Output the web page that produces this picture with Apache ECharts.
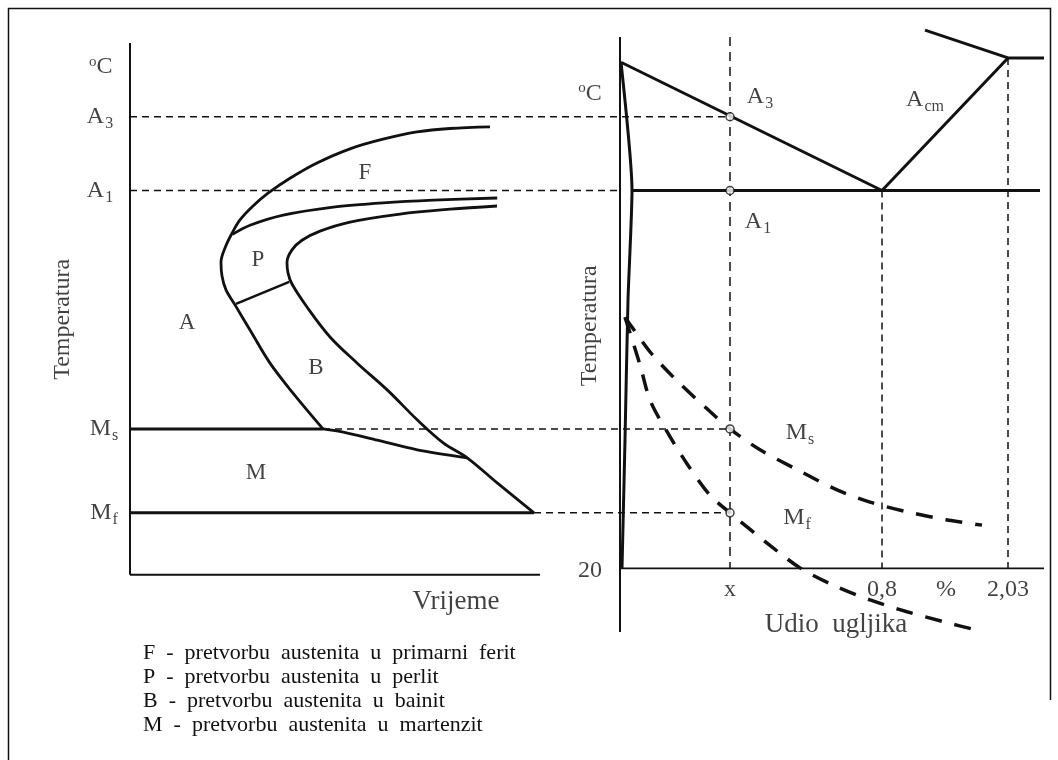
<!DOCTYPE html>
<html><head><meta charset="utf-8">
<script src="https://cdn.jsdelivr.net/npm/echarts@6/dist/echarts.min.js"></script>
<style>html,body{margin:0;padding:0;background:#fff}#c{width:1058px;height:760px}</style>
</head><body><div id="c"></div><script>
// ---------- DATA (schematic units: temperature in °C-like units, time / carbon in schematic units) ----------
const A3 = 865, A1 = 727, MS = 281, MF = 124, T20 = 20;
// left TTT diagram (time, temperature)
const leftAxisV = [[0, 1003], [0, 8]];
const leftAxisH = [[0, 8], [102.5, 8]];
const ferriteStart = [[90,846],[80,843],[71.75,836.5],[63.25,823],[55,805],[46.75,778.5],[40,750],[34.5,722],[30.75,698],[27.5,672],[25.5,647],[23.75,619.5],[22.75,593],[23,567],[24,541],[26.25,513],[30,466],[35,404],[40.75,348],[48.25,281]];
const pearliteStart = [[25.6,645],[30,662],[38.3,681],[50.8,696],[63.3,704],[75.8,709],[91.8,713]];
const transformEnd = [[91.75,698],[80,692],[67.5,683],[55,668],[47.5,651],[43,634],[40.5,616],[39.25,593],[39.5,573],[40.5,552],[44.25,509],[50,453],[56.8,404],[64.3,354],[71.8,298],[78.3,255],[84.3,227],[91.8,180],[101,124]];
const pbDivider = [[26.5,515],[39.8,556]];
const bainiteMs = [[48.25,281],[53.3,275],[61.8,260],[71.8,242],[84.3,227]];
const msSolid = [[0, MS], [48.25, MS]];
const mfSolid = [[0, MF], [101, MF]];
// right Fe-C diagram (carbon, schematic units; temperature)
const compX = 27.5, eutectoidX = 65.5, maxSolX = 97;
const rightAxisV = [[0, 1014], [0, -99]];
const rightAxisH = [[0, T20], [106, T20]];
const alphaLine = [[0.25,967],[3,727],[2,522],[1.25,260],[0.5,20]];
const a3Line = [[0.25,967],[eutectoidX,727]];
const acmLine = [[eutectoidX,727],[maxSolX,975]];
const topLine = [[76.25,1027],[maxSolX,975],[106,975]];
const a1Line = [[3,727],[105,727]];
const vCompX = [[compX,1014],[compX,T20]];
const vEutect = [[eutectoidX,727],[eutectoidX,T20]];
const vMaxSol = [[maxSolX,975],[maxSolX,T20]];
const msCurve = [[1.25,490],[7.75,423],[14.25,371],[21.25,322],[27.5,281],[35,242],[45,202],[54.25,167],[62.5,144],[71.75,126],[81.5,111],[90.5,101]];
const mfCurve = [[1.25,490],[5,401],[7.5,335],[11.5,279],[17,213],[22.5,157],[27.5,124],[37,66],[45,21],[53.75,-13],[62.5,-39],[71.75,-61],[81,-80],[90,-97]];
const circles = [[compX, A3], [compX, A1], [compX, MS], [compX, MF]];
// texts
const leftTempLabels = [[-7.3, 958, '{o|o}{b|C}'], [-7.5, A3, '{b|A}{s|3}'], [-7.5, A1, '{b|A}{s|1}'], [-6.5, MS, '{b|M}{s|s}'], [-6.5, MF, '{b|M}{s|f}']];
const leftRegionLabels = [[58.75, 760, 'F'], [32, 597, 'P'], [14.25, 479, 'A'], [46.5, 395, 'B'], [31.5, 198, 'M']];
const rightLabels = [[-7.5, 909, '{o|o}{b|C}'], [35, 902, '{b|A}{s|3}'], [34.5, 668, '{b|A}{s|1}'], [76.25, 896, '{b|A}{s|cm}'], [45, 273, '{b|M}{s|s}'], [44.25, 114, '{b|M}{s|f}'], [-7.5, 15, '{b|20}']];
const xTickPos = [compX, eutectoidX, 81.5, maxSolX];
const xTickLabels = ['x', '0,8', '%', '2,03'];
const legendLines = ['F  -  pretvorbu  austenita  u  primarni  ferit', 'P  -  pretvorbu  austenita  u  perlit', 'B  -  pretvorbu  austenita  u  bainit', 'M  -  pretvorbu  austenita  u  martenzit'];

// ---------- RENDER ----------
const FONT = 'Liberation Serif';
const INK = '#111';
const rich = {
  b: {fontSize: 24, fontFamily: FONT, color: INK},
  s: {fontSize: 16, fontFamily: FONT, color: INK, padding: [14, 0, 0, 1]},
  o: {fontSize: 15, fontFamily: FONT, color: INK, padding: [0, 0, 10, 0]}
};
const chart = echarts.init(document.getElementById('c'), null, {renderer: 'canvas'});

function line(g, data, w, type, smooth) {
  return {type: 'line', xAxisIndex: g, yAxisIndex: g, data: data, symbol: 'none', silent: true, smooth: smooth || false,
    lineStyle: {color: INK, width: w, type: type || 'solid', cap: 'butt'}, z: 2};
}
function texts(g, data, size, extra) {
  return Object.assign({type: 'scatter', xAxisIndex: g, yAxisIndex: g, symbolSize: 0, silent: true, z: 5,
    data: data.map(d => ({value: [d[0], d[1]], name: d[2]})),
    label: {show: true, position: 'inside', formatter: p => p.name, color: INK, fontFamily: FONT, fontSize: size, rich: rich}}, extra || {});
}
function vtext(g, x, y, t) {
  return texts(g, [[x, y, t]], 24, {label: {show: true, position: 'inside', rotate: 90, formatter: p => p.name, color: INK, fontFamily: FONT, fontSize: 24}});
}

function build(proj) {
  const series = [
    line(0, leftAxisV, 2), line(0, leftAxisH, 2),
    line(0, ferriteStart, 2.8, 'solid', 0.35), line(0, pearliteStart, 2.8, 'solid', 0.3), line(0, transformEnd, 2.8, 'solid', 0.35),
    line(0, pbDivider, 2.5), line(0, bainiteMs, 2.8, 'solid', 0.3), line(0, msSolid, 3), line(0, mfSolid, 3),
    line(1, rightAxisV, 2), line(1, rightAxisH, 1.6), line(1, alphaLine, 3, 'solid', 0.2), line(1, a3Line, 3), line(1, acmLine, 3),
    line(1, topLine, 3), line(1, a1Line, 3),
    line(1, vCompX, 1.5, [9, 6]), line(1, vEutect, 1.5, [7, 5]), line(1, vMaxSol, 1.5, [7, 5]),
    line(1, msCurve, 3.5, [17, 13], 0.3), line(1, mfCurve, 3.5, [17, 13], 0.3),
    texts(0, leftTempLabels, 24), texts(0, leftRegionLabels, 23), texts(1, rightLabels, 24),
    texts(1, xTickPos.map((x, i) => [x, -20, xTickLabels[i]]), 24),
    texts(0, [[81.5, -43, 'Vrijeme']], 27),
    texts(1, [[54, -86, 'Udio  ugljika']], 27),
    vtext(0, -16.8, 486, 'Temperatura'),
    vtext(1, -7.5, 474, 'Temperatura')
  ];
  if (proj) {
    series.push(line(0, [[0, A3], [proj.comp, A3]], 1.5, [7, 5]));
    series.push(line(0, [[0, A1], [proj.axis, A1]], 1.5, [7, 5]));
    series.push(line(0, [[48.25, MS], [proj.comp, MS]], 1.5, [7, 5]));
    series.push(line(0, [[101, MF], [proj.comp, MF]], 1.5, [7, 5]));
  }
  series.push({type: 'scatter', xAxisIndex: 1, yAxisIndex: 1, data: circles, symbol: 'circle', symbolSize: 8, silent: true, z: 6,
    itemStyle: {color: '#fff', borderColor: INK, borderWidth: 1.5}});
  return {
    backgroundColor: '#fff', animation: false,
    grid: [{left: 0, top: 20, width: 1058, height: 720}, {left: 0, top: 20, width: 1058, height: 720}],
    xAxis: [{type: 'value', gridIndex: 0, min: -32.5, max: 232, show: false},
            {type: 'value', gridIndex: 1, min: -155, max: 109.5, show: false}],
    yAxis: [{type: 'value', gridIndex: 0, min: -301, max: 1046, show: false},
            {type: 'value', gridIndex: 1, min: -301, max: 1046, show: false}],
    graphic: [
      {type: 'polyline', shape: {points: [[8.5, 770], [8.5, 8.5], [1050.5, 8.5], [1050.5, 700]]}, style: {stroke: INK, lineWidth: 1.5, fill: null}, silent: true},
      ...legendLines.map((t, i) => ({type: 'text', left: 143, top: 642 + i * 24, style: {text: t, fontFamily: FONT, fontSize: 22, fill: INK}, silent: true}))
    ],
    series: series
  };
}
chart.setOption(build(null));
const pxComp = chart.convertToPixel({xAxisIndex: 1, yAxisIndex: 1}, [compX, A3]);
const pxAxis = chart.convertToPixel({xAxisIndex: 1, yAxisIndex: 1}, [0, A1]);
const proj = {
  comp: chart.convertFromPixel({xAxisIndex: 0, yAxisIndex: 0}, pxComp)[0],
  axis: chart.convertFromPixel({xAxisIndex: 0, yAxisIndex: 0}, pxAxis)[0]
};
chart.setOption(build(proj), true);
</script></body></html>
